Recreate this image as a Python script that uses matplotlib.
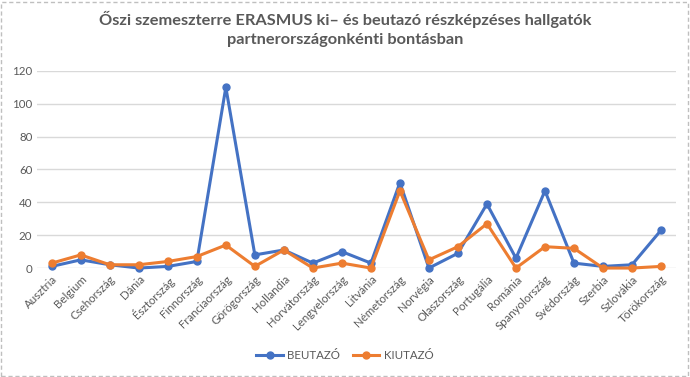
import matplotlib
matplotlib.use('Agg')
import matplotlib.pyplot as plt
from matplotlib.patches import Rectangle

orszagok = ['Ausztria', 'Belgium', 'Csehország', 'Dánia', 'Észtország', 'Finnország',
            'Franciaország', 'Görögország', 'Hollandia', 'Horvátország', 'Lengyelország',
            'Litvánia', 'Németország', 'Norvégia', 'Olaszország', 'Portugália', 'Románia',
            'Spanyolország', 'Svédország', 'Szerbia', 'Szlovákia', 'Törökország']
beutazo = [1, 5, 2, 0, 1, 4, 110, 8, 11, 3, 10, 3, 52, 0, 9, 39, 6, 47, 3, 1, 2, 23]
kiutazo = [3, 8, 2, 2, 4, 7, 14, 1, 11, 0, 3, 0, 47, 5, 13, 27, 0, 13, 12, 0, 0, 1]
y_ticks = [0, 20, 40, 60, 80, 100, 120]

plt.rcParams['font.family'] = ['Lato', 'DejaVu Sans']
szurke = '#595959'

fig = plt.figure(figsize=(6.9, 3.77), dpi=100)
ax = fig.add_axes([0.054, 0.289, 0.925, 0.523])

x = range(len(orszagok))
ax.plot(x, beutazo, color='#4472C4', lw=2.2, marker='o', ms=5, label='BEUTAZÓ', zorder=3, clip_on=False)
ax.plot(x, kiutazo, color='#ED7D31', lw=2.2, marker='o', ms=5, label='KIUTAZÓ', zorder=4, clip_on=False)

ax.set_xlim(-0.5, len(orszagok) - 0.5)
ax.set_ylim(0, 120)
ax.set_yticks(y_ticks)
ax.set_xticks(list(x))
ax.set_xticklabels(orszagok, rotation=45, ha='right', rotation_mode='anchor')
ax.tick_params(axis='both', length=0, colors=szurke, labelsize=8.3)
ax.tick_params(axis='x', pad=4)
ax.grid(axis='y', color='#d9d9d9', lw=1)
ax.set_axisbelow(True)
for s in ax.spines.values():
    s.set_visible(False)

fig.text(0.5, 0.972, 'Őszi szemeszterre ERASMUS ki– és beutazó részképzéses hallgatók\npartnerországonkénti bontásban',
         ha='center', va='top', fontsize=11.8, fontweight='bold', color=szurke, linespacing=1.5)

fig.legend(loc='center', bbox_to_anchor=(0.5, 0.058), ncol=2, frameon=False, fontsize=8.3,
           labelcolor=szurke, handlelength=2.3, handletextpad=0.4, columnspacing=1.1)

fig.add_artist(Rectangle((0.002, 0.003), 0.995, 0.993, transform=fig.transFigure, fill=False,
                         edgecolor='#bfbfbf', lw=1, ls=(0, (3, 2))))

fig.savefig('out.png', dpi=100)
